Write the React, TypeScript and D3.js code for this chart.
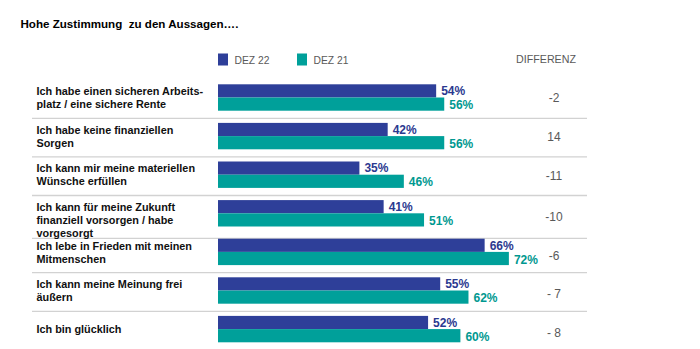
import React from "react";
import * as d3 from "d3";

const title = "Hohe Zustimmung  zu den Aussagen….";
const categories = [
  "Ich habe einen sicheren Arbeits-\nplatz / eine sichere Rente",
  "Ich habe keine finanziellen\nSorgen",
  "Ich kann mir meine materiellen\nWünsche erfüllen",
  "Ich kann für meine Zukunft\nfinanziell vorsorgen / habe\nvorgesorgt",
  "Ich lebe in Frieden mit meinen\nMitmenschen",
  "Ich kann meine Meinung frei\näußern",
  "Ich bin glücklich",
];
const seriesNames = ["DEZ 22", "DEZ 21"];
const dez22 = [54, 42, 35, 41, 66, 55, 52];
const dez21 = [56, 56, 46, 51, 72, 62, 60];
const differenz = ["-2", "14", "-11", "-10", "-6", "- 7", "- 8"];
const diffHeader = "DIFFERENZ";

const W = 700;
const H = 349;
const barColors = ["#2E3F99", "#00A09A"];
const textColors = ["#2B3990", "#009890"];
const font = "'Liberation Sans', Arial, Helvetica, sans-serif";

export default function App() {
  const series = [dez22, dez21];
  const x = d3.scaleLinear().domain([0, 100]).range([218, 218 + 404]);
  const y = d3
    .scaleBand<number>()
    .domain(d3.range(categories.length))
    .range([84.3, 342.3])
    .paddingInner(0.316)
    .paddingOuter(0);
  const inner = d3.scaleBand<number>().domain([0, 1]).range([0, y.bandwidth()]);
  const step = y.step();
  const bw = y.bandwidth();
  const lineH = 12.9;

  const firstLineY = (i: number) => {
    const top = y(i) as number;
    const n = categories[i].split("\n").length;
    return n === 1 ? top + bw / 2 : top + 7;
  };
  const sepY = (i: number) => {
    const top = y(i) as number;
    const n = categories[i].split("\n").length;
    const mid = top + bw + (step - bw) / 2 + 1.5;
    const labelBottom = firstLineY(i) + (n - 1) * lineH + 5.5;
    return Math.max(mid, labelBottom);
  };

  return (
    <svg
      width={W}
      height={H}
      style={{ position: "absolute", left: 0, top: 0, background: "#fff" }}
      fontFamily={font}
    >
      <rect x={0} y={0} width={W} height={H} fill="#fff" />
      <text
        x={20.5}
        y={27.5}
        fontSize={11.6}
        fontWeight="bold"
        fill="#000"
        style={{ whiteSpace: "pre" }}
        xmlSpace="preserve"
      >
        {title}
      </text>

      {/* legend */}
      {seriesNames.map((s, i) => (
        <g key={s} transform={`translate(${218 + i * 79},0)`}>
          <rect x={0} y={53.5} width={10} height={12} fill={barColors[i]} />
          <text x={16.5} y={63.8} fontSize={10.3} fill="#595959">
            {s}
          </text>
        </g>
      ))}
      <text x={546} y={63} fontSize={10.7} fill="#595959" textAnchor="middle">
        {diffHeader}
      </text>

      {/* separators */}
      {categories.slice(0, -1).map((_, i) => (
        <line
          key={"sep" + i}
          x1={32}
          x2={587}
          y1={sepY(i)}
          y2={sepY(i)}
          stroke="#d2d2d2"
          strokeWidth={1.3}
        />
      ))}

      {categories.map((c, i) => {
        const top = y(i) as number;
        const lines = c.split("\n");
        const fy = firstLineY(i);
        return (
          <g key={"row" + i}>
            <text fontSize={10.85} fontWeight="bold" fill="#111">
              {lines.map((l, j) => (
                <tspan key={j} x={36.5} y={fy + j * lineH} dy="0.36em">
                  {l}
                </tspan>
              ))}
            </text>
            {series.map((vals, k) => {
              const by = top + (inner(k) as number);
              const bh = inner.bandwidth();
              return (
                <g key={k}>
                  <rect
                    x={x(0)}
                    y={by}
                    width={x(vals[i]) - x(0)}
                    height={bh}
                    fill={barColors[k]}
                  />
                  <text
                    x={x(vals[i]) + 5}
                    y={by + bh / 2 + k * 0.8}
                    dy="0.36em"
                    fontSize={12}
                    fontWeight="bold"
                    fill={textColors[k]}
                  >
                    {vals[i]}%
                  </text>
                </g>
              );
            })}
            <text
              x={554}
              y={top + bw / 2 + (i > 2 ? 3.5 : 0.5)}
              dy="0.36em"
              fontSize={12}
              fill="#595959"
              textAnchor="middle"
              style={{ whiteSpace: "pre" }}
            >
              {differenz[i]}
            </text>
          </g>
        );
      })}
    </svg>
  );
}
